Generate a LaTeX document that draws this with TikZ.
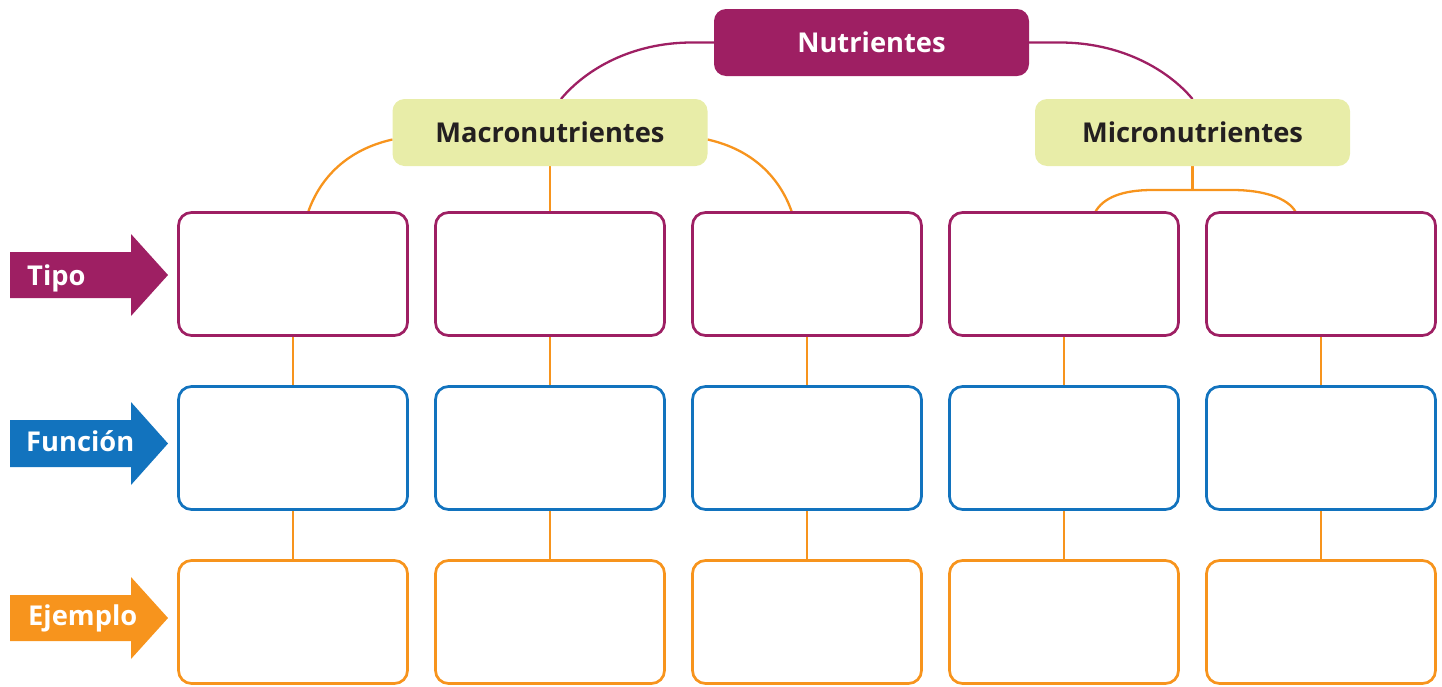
\documentclass[tikz,border=0pt]{standalone}
\usepackage{fontspec}
\setmainfont{Open Sans}
\usetikzlibrary{backgrounds}
\definecolor{nutpurple}{HTML}{9E1F63}
\definecolor{nutblue}{HTML}{1273BE}
\definecolor{nutorange}{HTML}{F7941D}
\definecolor{nutgreen}{HTML}{E8EDA8}
\definecolor{nutdark}{HTML}{231F20}
\tikzset{
  headbox/.style={rectangle, rounded corners=12pt, minimum width=315pt, minimum height=67pt, inner sep=0pt, outer sep=0pt, font=\fontsize{27.3}{32}\selectfont\bfseries},
  topbox/.style={headbox, fill=nutpurple, text=white},
  subbox/.style={headbox, fill=nutgreen, text=nutdark},
  cellbox/.style={rectangle, rounded corners=13pt, minimum width=229pt, minimum height=123pt, line width=2.7pt, fill=white, inner sep=0pt, outer sep=0pt},
  tipobox/.style={cellbox, draw=nutpurple},
  funcbox/.style={cellbox, draw=nutblue},
  ejembox/.style={cellbox, draw=nutorange},
  purplink/.style={draw=nutpurple, line width=2.3pt},
  orlink/.style={draw=nutorange, line width=2.3pt},
  rowlabel/.style={anchor=base west, inner sep=0pt, text=white, font=\fontsize{27.3}{32}\selectfont\bfseries},
}
\begin{document}
\begin{tikzpicture}[x=1pt, y=-1pt]
\useasboundingbox (0,0) rectangle (1442,686);
% head nodes
\node[topbox] (nut) at (871.5,42.5) {Nutrientes};
\node[subbox] (mac) at (550,132.5) {Macronutrientes};
\node[subbox] (mic) at (1192.5,132.5) {Micronutrientes};
% cells
\foreach \i/\x in {1/293,2/550,3/807,4/1064,5/1321} {
  \node[tipobox] (t\i) at (\x,274) {};
  \node[funcbox] (f\i) at (\x,448) {};
  \node[ejembox] (e\i) at (\x,622) {};
}
\coordinate (mj) at ([yshift=-24pt]mic.south);
% connectors
\begin{scope}[on background layer]
  \draw[purplink] (nut.west) -- ++(-22,0) .. controls +(-60,0) and +(25,-30) .. ([xshift=11pt]mac.north);
  \draw[purplink] (nut.east) -- ++(31,0) .. controls +(60,0) and +(-25,-30) .. (mic.north);
  \draw[orlink] ([yshift=-7pt]mac.west) .. controls +(-45,10) and +(12,-35) .. ([xshift=15pt]t1.north);
  \draw[orlink] (mac) -- (t2);
  \draw[orlink] ([yshift=-7pt]mac.east) .. controls +(45,10) and +(-12,-35) .. ([xshift=-15pt]t3.north);
  \draw[orlink] (mic) -- (mj);
  \draw[orlink] ([xshift=31pt]t4.north) .. controls +(8,-15) and +(-30,0) .. ([xshift=-40pt]mj) -- ([xshift=40pt]mj) .. controls +(30,0) and +(-8,-15) .. ([xshift=-25pt]t5.north);
  \foreach \i in {1,...,5} {
    \draw[orlink] (t\i) -- (f\i);
    \draw[orlink] (f\i) -- (e\i);
  }
\end{scope}
% row arrows
\fill[nutpurple] (10,252) -- (131,252) -- (131,234) -- (168,275) -- (131,316) -- (131,298) -- (10,298) -- cycle;
\fill[nutblue] (10,420) -- (131,420) -- (131,402) -- (168,443.5) -- (131,485) -- (131,467) -- (10,467) -- cycle;
\fill[nutorange] (10,595) -- (131,595) -- (131,577) -- (168,618) -- (131,659) -- (131,641) -- (10,641) -- cycle;
\node[rowlabel] (ltipo) at (27,285) {Tipo};
\node[rowlabel] (lfunc) at (26,451) {Función};
\node[rowlabel] (lejem) at (28,625) {Ejemplo};
\end{tikzpicture}
\end{document}
